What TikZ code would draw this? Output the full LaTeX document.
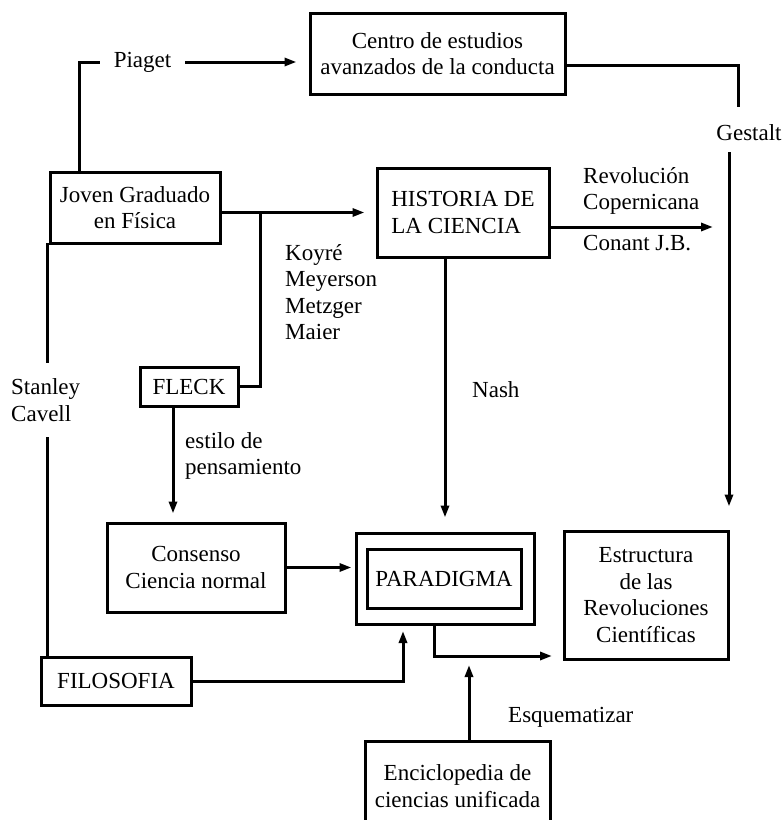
\documentclass[tikz,border=0pt]{standalone}
\usepackage{fontspec}
\setmainfont{Liberation Serif}
\usetikzlibrary{arrows.meta}

\begin{document}
\begin{tikzpicture}[x=1pt, y=-1pt,
    every node/.style={font=\fontsize{23}{26.5}\selectfont},
    caja/.style={draw, line width=3pt, align=center, inner sep=0pt},
    linea/.style={line width=3pt},
    flecha/.style={linea, -{Triangle[length=12pt,width=8pt]}},
    rotulo/.style={inner sep=0pt, align=left}]
  \useasboundingbox (0,0) rectangle (783,820);

  % Draw the boxes
  \node[caja, minimum width=255pt, minimum height=81pt] (centro) at (437.5,53.5) {Centro de estudios\\avanzados de la conducta};
  \node[caja, minimum width=170pt, minimum height=71pt] (joven) at (135,207.5) {Joven Graduado\\en Física};
  \node[caja, align=left, minimum width=172pt, minimum height=89pt] (historia) at (463,212.5) {HISTORIA DE\\LA CIENCIA};
  \node[caja, minimum width=98pt, minimum height=39pt] (fleck) at (189,386.5) {FLECK};
  \node[caja, minimum width=178pt, minimum height=89pt] (consenso) at (196,567.5) {Consenso\\Ciencia normal};
  \node[caja, minimum width=178pt, minimum height=91pt] (marco) at (445,578.5) {};
  \node[caja, minimum width=154pt, minimum height=59pt] (paradigma) at (444,578.5) {PARADIGMA};
  \node[caja, minimum width=164pt, minimum height=128pt] (estructura) at (646,595) {Estructura\\de las\\Revoluciones\\Científicas};
  \node[caja, minimum width=150pt, minimum height=48pt] (filosofia) at (116,681) {FILOSOFIA};
  \node[caja, minimum width=185pt, minimum height=90pt] (enciclopedia) at (457.5,786) {Enciclopedia de\\ciencias unificada};

  % Labels on the connectors
  \node[rotulo, inner xsep=14pt] (piaget) at (142.5,62) {Piaget};
  \node[rotulo, anchor=base] (gestalt) at (749,140) {Gestalt};
  \node[rotulo, anchor=north west] (revolucion) at (583,167) {Revolución\\Copernicana};
  \node[rotulo, anchor=base west] (conant) at (583,250) {Conant J.B.};
  \node[rotulo, anchor=north west] (koyre) at (285,244) {Koyré\\Meyerson\\Metzger\\Maier};
  \node[rotulo, anchor=west, minimum height=74pt] (cavell) at (11,400) {Stanley\\Cavell};
  \node[rotulo, anchor=north west] (estilo) at (185,432) {estilo de\\pensamiento};
  \node[rotulo, anchor=base west] (nash) at (472,397) {Nash};
  \node[rotulo, anchor=base west] (esquema) at (508,722) {Esquematizar};

  % Free ends and corners of the connectors
  \coordinate (jp) at (79,172);
  \coordinate (gs) at (738,107);
  \coordinate (gi) at (729,152);
  \coordinate (kb) at (260,212.5);
  \coordinate (rc) at (713,227);
  \coordinate (fk) at (173,406);
  \coordinate (sc) at (47,243);
  \coordinate (fp) at (403,624);
  \coordinate (pe) at (434,624);
  \coordinate (ee) at (564,656);
  \coordinate (eq) at (469,741);
  \coordinate (eqtip) at (469,665);

  % Draw the connectors
  \draw[linea] (jp) |- (piaget.west);
  \draw[flecha, shorten >=12pt] (piaget.east) -- (piaget.east -| centro.west);
  \draw[linea] ([yshift=-11.5pt]centro.east) -| (gs);
  \draw[flecha, shorten >=23pt] (gi) -- (gi |- estructura.north);
  \draw[flecha, shorten >=11pt] (joven.east |- historia.west) -- (historia.west);
  \draw[linea] (kb) |- (fleck.east);
  \draw[flecha] (historia.east |- rc) -- (rc);
  \draw[flecha, shorten >=14pt] (marco.north |- historia.south) -- (marco.north);
  \draw[flecha, shorten >=8pt] (fk) -- (fk |- consenso.north);
  \draw[flecha, shorten >=3pt] (consenso.east) -- (consenso.east -| marco.west);
  \draw[linea] (sc) -- (sc |- cavell.north);
  \draw[linea] (sc |- cavell.south) -- (sc |- filosofia.north);
  \draw[flecha, shorten >=7pt] (filosofia.east) -| (fp);
  \draw[flecha, shorten >=12pt] (pe) |- (ee);
  \draw[flecha] (eq) -- (eqtip);

\end{tikzpicture}
\end{document}
